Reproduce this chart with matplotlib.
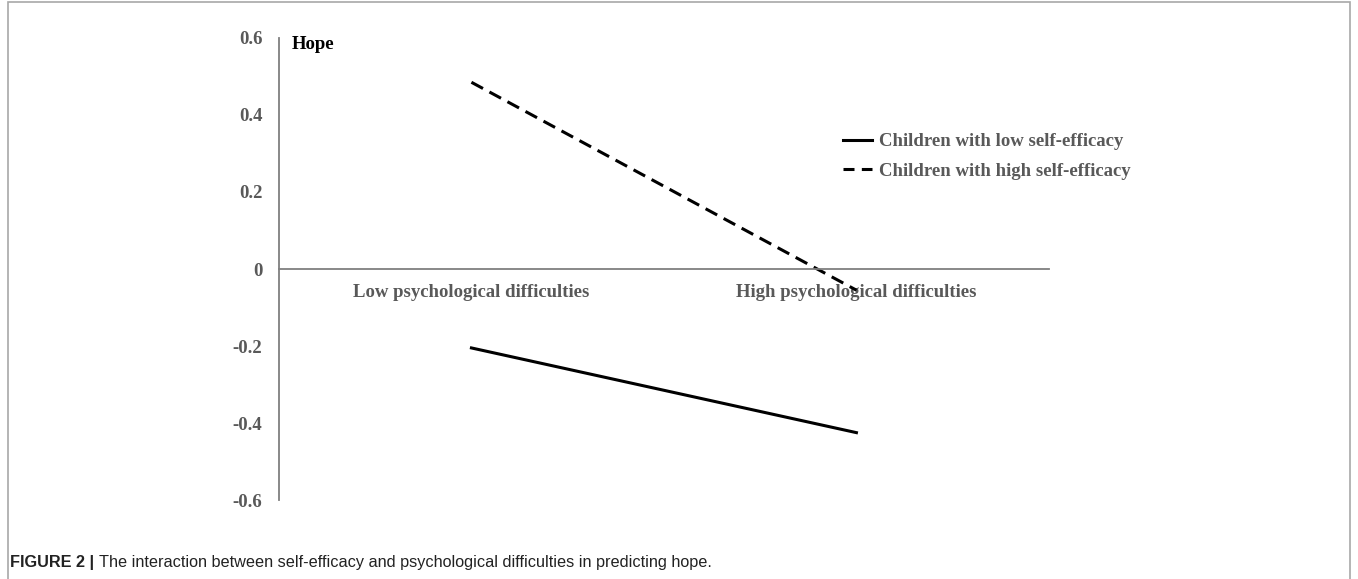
import matplotlib
matplotlib.use('Agg')
import matplotlib.pyplot as plt
from matplotlib.patches import Rectangle

# Datos
categorias = ['Low psychological difficulties', 'High psychological difficulties']
baja_autoeficacia = [-0.205, -0.425]
alta_autoeficacia = [0.485, -0.055]
ticks_y = [-0.6, -0.4, -0.2, 0, 0.2, 0.4, 0.6]
etiquetas_y = ['-0.6', '-0.4', '-0.2', '0', '0.2', '0.4', '0.6']

gris = '#595959'
fuente = 'Liberation Serif'
tam = 13.5

fig = plt.figure(figsize=(13.58, 5.79), dpi=100)
ax = fig.add_axes([0.2054, 0.1364, 0.5670, 0.798])

x = [0.5, 1.5]
ax.plot(x, baja_autoeficacia, color='black', lw=2.2, label='Children with low self-efficacy')
ax.plot(x, alta_autoeficacia, color='black', lw=2.2, dashes=(4.3, 2.4),
        label='Children with high self-efficacy')

ax.set_xlim(0, 2)
ax.set_ylim(-0.6, 0.6)

# Ejes
for lado in ['top', 'right']:
    ax.spines[lado].set_visible(False)
ax.spines['left'].set_color('#7f7f7f')
ax.spines['left'].set_linewidth(1.3)
ax.spines['bottom'].set_position(('data', 0))
ax.spines['bottom'].set_color('#7f7f7f')
ax.spines['bottom'].set_linewidth(1.3)

ax.set_yticks(ticks_y)
ax.set_yticklabels(etiquetas_y)
ax.set_xticks(x)
ax.set_xticklabels(categorias)
ax.tick_params(axis='y', length=0, pad=12)
ax.tick_params(axis='x', length=0, pad=11)
for t in ax.get_yticklabels() + ax.get_xticklabels():
    t.set_fontfamily(fuente)
    t.set_fontweight('bold')
    t.set_fontsize(tam)
    t.set_color(gris)

fig.text(292 / 1358, 1 - 36 / 579, 'Hope', fontfamily=fuente,
         fontweight='bold', fontsize=tam, color='black', va='top', ha='left')

leg = ax.legend(loc='upper left', bbox_to_anchor=(843 / 1358, 1 - 133 / 579),
                bbox_transform=fig.transFigure, frameon=False, borderpad=0, borderaxespad=0,
                handlelength=1.55, handletextpad=0.35, labelspacing=0.67,
                prop={'family': fuente, 'weight': 'bold', 'size': tam})
for t in leg.get_texts():
    t.set_color(gris)
leg.get_lines()[1].set_dashes((3.6, 2.4))  # dos guiones en la leyenda

# Marco y pie de figura
fig.patches.append(Rectangle((0.006, -0.01), 0.988, 1.006, transform=fig.transFigure,
                             fill=False, edgecolor='#a8a8a8', lw=1.2))
pie1 = fig.text(10 / 1358, 12 / 579, 'FIGURE 2 |', fontfamily='Liberation Sans', fontweight='bold',
                fontsize=11.7, color='#222222', va='baseline')
fig.canvas.draw()
fin = pie1.get_window_extent().x1
pie2 = fig.text((fin + 5) / 1358, 12 / 579,
                'The interaction between self-efficacy and psychological difficulties in predicting hope.',
                fontfamily='Liberation Sans', fontsize=11.7, color='#222222', va='baseline')

fig.savefig('out.png', dpi=100)
